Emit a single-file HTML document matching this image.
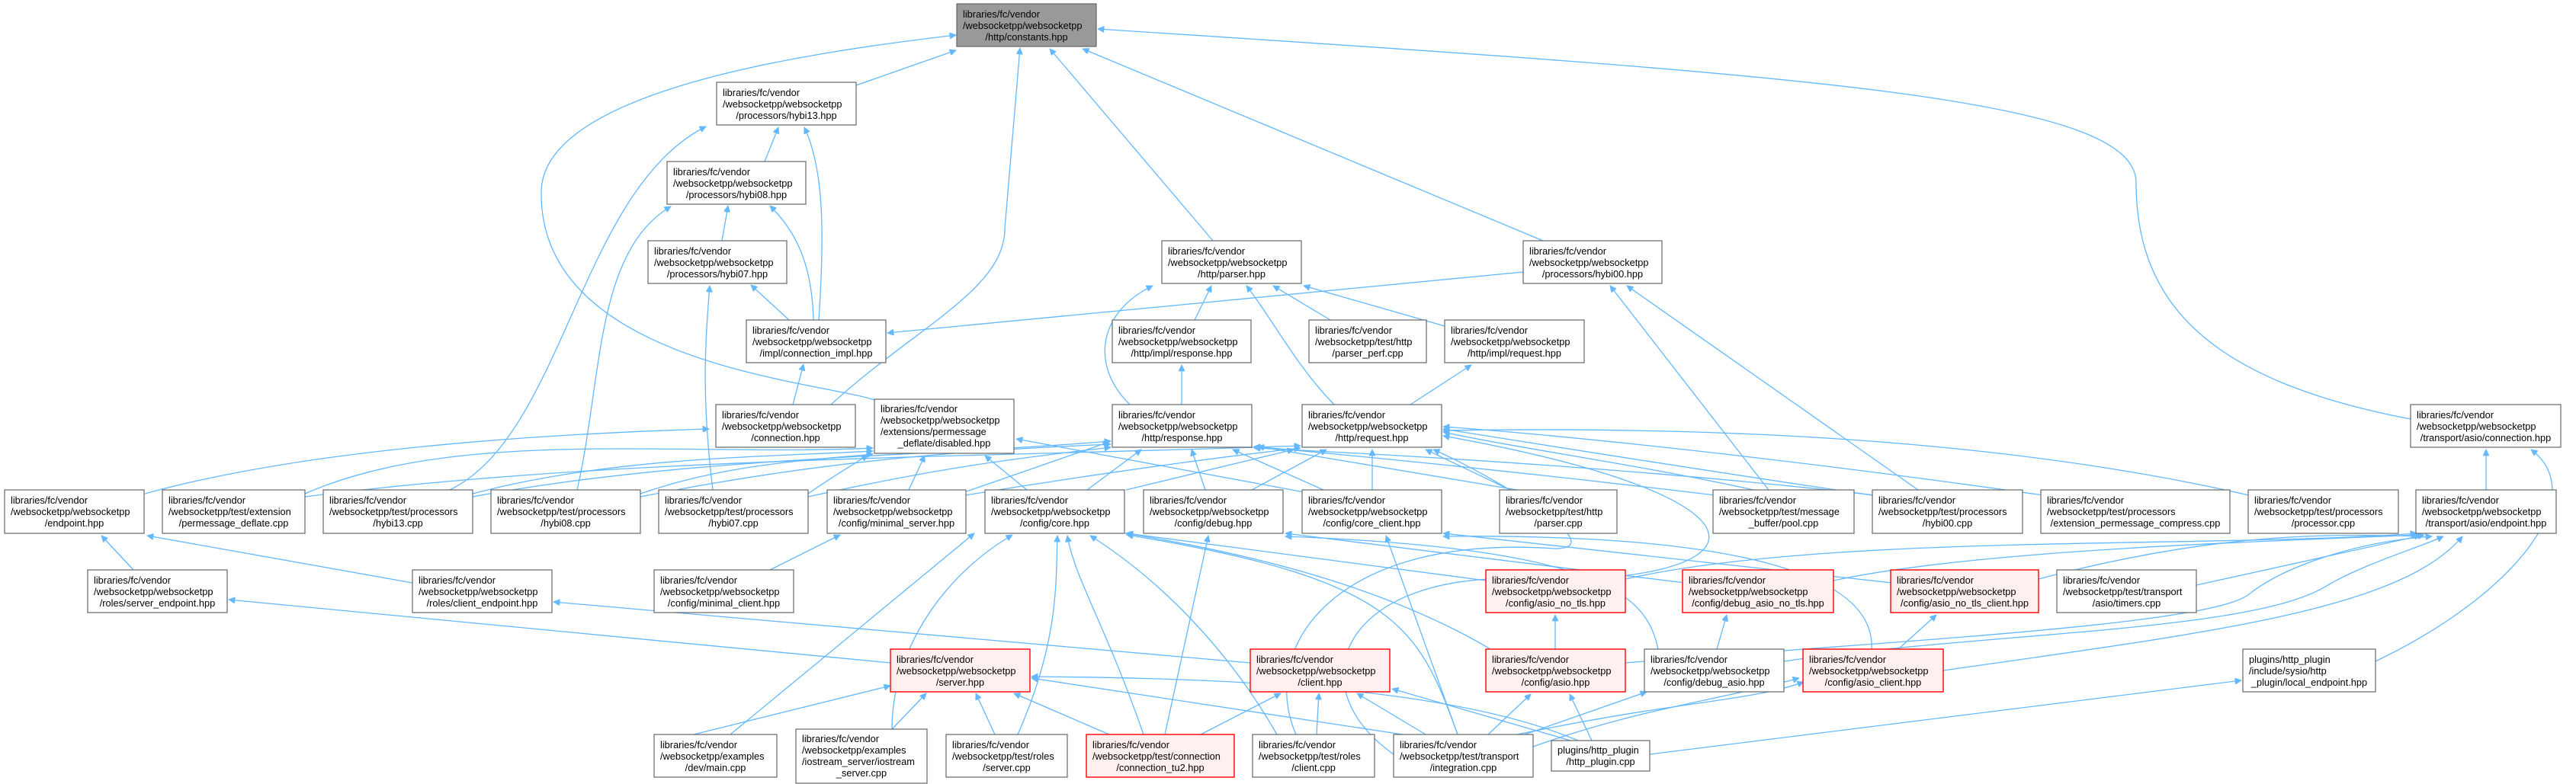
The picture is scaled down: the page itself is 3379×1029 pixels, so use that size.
<!DOCTYPE html>
<html><head><meta charset="utf-8">
<style>
html,body{margin:0;padding:0;background:#fff;}
svg{display:block;}
text{font-family:"Liberation Sans",Arial,sans-serif;font-size:12.8px;fill:#000;}
.n{fill:#fff;stroke:#666;stroke-width:1.2;}
.r{fill:#fff0f0;stroke:#f00;stroke-width:1.4;}
.g{fill:#999;stroke:#666;stroke-width:1.2;}
path.e{fill:none;stroke:#63b8ff;stroke-width:1.3;}
</style></head><body>
<svg width="3379" height="1029" viewBox="0 0 3379 1029" xmlns="http://www.w3.org/2000/svg">
<defs><marker id="a" viewBox="0 0 10 10" refX="10" refY="5" markerWidth="11" markerHeight="8" markerUnits="userSpaceOnUse" orient="auto"><path d="M0,0 L10,5 L0,10 z" fill="#63b8ff" stroke="#63b8ff"/></marker></defs>
<g marker-end="url(#a)">
<!-- to constants -->
<path class="e" d="M1123,112 L1254,66"/>
<path class="e" d="M1150,526 C1080,500 705,480 710,250 C715,120 1050,70 1254,46"/>
<path class="e" d="M1090,531 C1200,430 1318,380 1318,300 L1338,63"/>
<path class="e" d="M1591,316 L1377,64"/>
<path class="e" d="M2024,316 L1420,64"/>
<path class="e" d="M3162,550 C2900,500 2802,400 2802,240 C2802,130 2400,100 1440,38"/>
<!-- hybi13 -->
<path class="e" d="M1003,212 L1021,167"/>
<path class="e" d="M1074,420 C1082,300 1080,220 1055,167"/>
<path class="e" d="M590,643 C740,570 760,250 926,166"/>
<!-- hybi08 -->
<path class="e" d="M947,316 L955,270"/>
<path class="e" d="M1067,420 C1065,340 1040,300 1010,270"/>
<path class="e" d="M757,643 C790,500 780,330 880,271"/>
<!-- hybi07 -->
<path class="e" d="M1035,420 L985,374"/>
<path class="e" d="M935,643 C920,520 925,450 931,375"/>
<!-- conn_impl -->
<path class="e" d="M1998,357 L1164,437"/>
<path class="e" d="M1040,531 L1054,478"/>
<!-- parser -->
<path class="e" d="M1567,420 L1589,375"/>
<path class="e" d="M1482,531 C1430,480 1440,410 1512,375"/>
<path class="e" d="M1750,531 C1700,480 1670,420 1635,375"/>
<path class="e" d="M1745,420 L1670,375"/>
<path class="e" d="M1895,428 L1710,375"/>
<!-- hybi00 -->
<path class="e" d="M2320,643 L2112,375"/>
<path class="e" d="M2516,643 L2134,375"/>
<!-- impl response/request -->
<path class="e" d="M1550,531 L1550,479"/>
<path class="e" d="M1850,531 L1930,479"/>
<!-- connection.hpp -->
<path class="e" d="M190,648 C400,590 700,570 930,563"/>
<!-- tconn -->
<path class="e" d="M3261,643 L3261,590"/>
<path class="e" d="M3116,868 C3300,780 3400,650 3320,590"/>
<!-- disabled -->
<path class="e" d="M400,648 C600,560 900,600 1145,588"/>
<path class="e" d="M620,648 C800,600 1000,600 1145,592"/>
<path class="e" d="M840,648 C950,610 1050,605 1145,596"/>
<path class="e" d="M1060,648 C1100,620 1120,610 1138,597"/>
<path class="e" d="M1192,643 L1213,598"/>
<path class="e" d="M1347,643 L1292,598"/>
<path class="e" d="M1711,646 L1333,576"/>
<!-- response -->
<path class="e" d="M620,652 C900,600 1200,600 1457,579"/>
<path class="e" d="M840,652 C1100,600 1300,590 1457,583"/>
<path class="e" d="M1060,652 C1250,610 1350,600 1457,587"/>
<path class="e" d="M1268,645 L1455,580"/>
<path class="e" d="M1426,643 L1497,590"/>
<path class="e" d="M1581,643 L1563,590"/>
<path class="e" d="M1736,643 L1617,590"/>
<path class="e" d="M1990,643 L1650,586"/>
<path class="e" d="M2250,650 C2000,620 1800,600 1645,586"/>
<path class="e" d="M2460,650 C2200,620 1900,600 1645,588"/>
<!-- request -->
<path class="e" d="M400,652 C800,600 1300,600 1706,585"/>
<path class="e" d="M1266,650 C1450,620 1600,600 1706,588"/>
<path class="e" d="M1477,643 L1697,590"/>
<path class="e" d="M1642,643 L1740,590"/>
<path class="e" d="M1800,643 L1800,590"/>
<path class="e" d="M1981,643 L1870,590"/>
<path class="e" d="M2300,643 C2150,610 2000,590 1893,567"/>
<path class="e" d="M2456,650 C2250,620 2000,580 1893,563"/>
<path class="e" d="M2680,650 C2400,610 2100,575 1893,560"/>
<path class="e" d="M2950,650 C2600,570 2200,560 1893,565"/>
<path class="e" d="M1828,990 C1700,900 1760,750 2000,760 C2300,770 2380,660 1893,572"/>
<path class="e" d="M1700,964 C1650,850 1750,700 2040,720 C2120,720 1950,620 1880,590"/>
<!-- endpoint -->
<path class="e" d="M175,748 L133,703"/>
<path class="e" d="M541,765 L193,703"/>
<!-- minimal_server -->
<path class="e" d="M1010,748 L1102,702"/>
<!-- server/client endpoint -->
<path class="e" d="M1168,870 L300,787"/>
<path class="e" d="M1640,870 L726,790"/>
<!-- core -->
<path class="e" d="M958,964 L1278,700"/>
<path class="e" d="M1170,957 C1170,860 1230,760 1328,702"/>
<path class="e" d="M1335,964 C1390,840 1385,760 1387,703"/>
<path class="e" d="M1500,964 C1450,820 1410,760 1400,703"/>
<path class="e" d="M1675,964 C1610,850 1520,760 1430,703"/>
<path class="e" d="M1912,964 C1860,820 1830,760 1478,702"/>
<path class="e" d="M1949,762 L1478,700"/>
<path class="e" d="M1955,852 C1800,760 1600,720 1476,700"/>
<!-- debug -->
<path class="e" d="M1528,964 L1585,703"/>
<path class="e" d="M2210,765 L1686,700"/>
<path class="e" d="M2175,852 C2160,780 2100,720 1686,704"/>
<!-- core_client -->
<path class="e" d="M1912,964 L1818,703"/>
<path class="e" d="M2482,765 L1893,700"/>
<path class="e" d="M2455,852 C2460,760 2300,700 1893,704"/>
<!-- asio chain -->
<path class="e" d="M2040,852 L2040,807"/>
<path class="e" d="M2252,852 L2265,807"/>
<path class="e" d="M2490,852 L2540,807"/>
<!-- server.hpp -->
<path class="e" d="M910,964 L1168,900"/>
<path class="e" d="M1170,957 L1215,910"/>
<path class="e" d="M1305,964 L1280,910"/>
<path class="e" d="M1455,964 L1330,910"/>
<path class="e" d="M1840,964 L1353,890"/>
<path class="e" d="M2070,972 C1900,900 1600,890 1353,888"/>
<!-- client.hpp -->
<path class="e" d="M1575,964 L1680,910"/>
<path class="e" d="M1727,964 L1730,910"/>
<path class="e" d="M1870,964 L1780,910"/>
<path class="e" d="M2060,972 L1826,904"/>
<!-- asio / debug_asio / asio_client -->
<path class="e" d="M1952,964 L2008,911"/>
<path class="e" d="M2088,972 L2059,911"/>
<path class="e" d="M2000,964 L2160,908"/>
<path class="e" d="M2011,980 C2150,930 2250,920 2360,890"/>
<path class="e" d="M1990,964 C2200,920 2300,920 2366,895"/>
<!-- transport endpoint -->
<path class="e" d="M2132,760 C2400,700 2900,720 3170,700"/>
<path class="e" d="M2405,762 C2600,720 3000,710 3172,702"/>
<path class="e" d="M2674,760 C2900,700 3050,700 3176,704"/>
<path class="e" d="M2881,768 L3180,702"/>
<path class="e" d="M2132,870 C2500,840 2900,820 2950,780 C3000,740 3100,710 3190,704"/>
<path class="e" d="M2340,868 C2600,830 2950,830 3050,770 C3100,740 3170,720 3205,704"/>
<path class="e" d="M2549,880 C2900,830 3150,800 3230,704"/>
<!-- local endpoint -->
<path class="e" d="M2164,990 L2940,893"/>
</g>

<!-- nodes -->
<g>
<rect class="g" x="1255" y="5" width="183" height="56"/>
<text x="1263" y="23">libraries/fc/vendor</text><text x="1263" y="38">/websocketpp/websocketpp</text><text x="1346.5" y="53" text-anchor="middle">/http/constants.hpp</text>

<rect class="n" x="940" y="108" width="183" height="56"/>
<text x="948" y="126">libraries/fc/vendor</text><text x="948" y="141">/websocketpp/websocketpp</text><text x="1031.5" y="156" text-anchor="middle">/processors/hybi13.hpp</text>

<rect class="n" x="875" y="212" width="182" height="56"/>
<text x="883" y="230">libraries/fc/vendor</text><text x="883" y="245">/websocketpp/websocketpp</text><text x="966" y="260" text-anchor="middle">/processors/hybi08.hpp</text>

<rect class="n" x="850" y="316" width="182" height="56"/>
<text x="858" y="334">libraries/fc/vendor</text><text x="858" y="349">/websocketpp/websocketpp</text><text x="941" y="364" text-anchor="middle">/processors/hybi07.hpp</text>

<rect class="n" x="1524" y="316" width="183" height="56"/>
<text x="1532" y="334">libraries/fc/vendor</text><text x="1532" y="349">/websocketpp/websocketpp</text><text x="1615.5" y="364" text-anchor="middle">/http/parser.hpp</text>

<rect class="n" x="1998" y="316" width="182" height="56"/>
<text x="2006" y="334">libraries/fc/vendor</text><text x="2006" y="349">/websocketpp/websocketpp</text><text x="2089" y="364" text-anchor="middle">/processors/hybi00.hpp</text>

<rect class="n" x="979" y="420" width="183" height="56"/>
<text x="987" y="438">libraries/fc/vendor</text><text x="987" y="453">/websocketpp/websocketpp</text><text x="1070.5" y="468" text-anchor="middle">/impl/connection_impl.hpp</text>

<rect class="n" x="1459" y="420" width="182" height="56"/>
<text x="1467" y="438">libraries/fc/vendor</text><text x="1467" y="453">/websocketpp/websocketpp</text><text x="1550" y="468" text-anchor="middle">/http/impl/response.hpp</text>

<rect class="n" x="1717" y="420" width="154" height="56"/>
<text x="1725" y="438">libraries/fc/vendor</text><text x="1725" y="453">/websocketpp/test/http</text><text x="1794" y="468" text-anchor="middle">/parser_perf.cpp</text>

<rect class="n" x="1895" y="420" width="183" height="56"/>
<text x="1903" y="438">libraries/fc/vendor</text><text x="1903" y="453">/websocketpp/websocketpp</text><text x="1986.5" y="468" text-anchor="middle">/http/impl/request.hpp</text>

<rect class="n" x="939" y="531" width="183" height="56"/>
<text x="947" y="549">libraries/fc/vendor</text><text x="947" y="564">/websocketpp/websocketpp</text><text x="1030.5" y="579" text-anchor="middle">/connection.hpp</text>

<rect class="n" x="1147" y="524" width="183" height="71"/>
<text x="1155" y="541">libraries/fc/vendor</text><text x="1155" y="556">/websocketpp/websocketpp</text><text x="1155" y="571">/extensions/permessage</text><text x="1238.5" y="586" text-anchor="middle">_deflate/disabled.hpp</text>

<rect class="n" x="1459" y="531" width="183" height="56"/>
<text x="1467" y="549">libraries/fc/vendor</text><text x="1467" y="564">/websocketpp/websocketpp</text><text x="1550.5" y="579" text-anchor="middle">/http/response.hpp</text>

<rect class="n" x="1708" y="531" width="183" height="56"/>
<text x="1716" y="549">libraries/fc/vendor</text><text x="1716" y="564">/websocketpp/websocketpp</text><text x="1799.5" y="579" text-anchor="middle">/http/request.hpp</text>

<rect class="n" x="3162" y="531" width="197" height="56"/>
<text x="3170" y="549">libraries/fc/vendor</text><text x="3170" y="564">/websocketpp/websocketpp</text><text x="3260.5" y="579" text-anchor="middle">/transport/asio/connection.hpp</text>

<!-- row 6 -->
<rect class="n" x="6" y="643" width="183" height="57"/>
<text x="14" y="661">libraries/fc/vendor</text><text x="14" y="676">/websocketpp/websocketpp</text><text x="97.5" y="691" text-anchor="middle">/endpoint.hpp</text>

<rect class="n" x="213" y="643" width="187" height="57"/>
<text x="221" y="661">libraries/fc/vendor</text><text x="221" y="676">/websocketpp/test/extension</text><text x="306.5" y="691" text-anchor="middle">/permessage_deflate.cpp</text>

<rect class="n" x="424" y="643" width="196" height="57"/>
<text x="432" y="661">libraries/fc/vendor</text><text x="432" y="676">/websocketpp/test/processors</text><text x="522" y="691" text-anchor="middle">/hybi13.cpp</text>

<rect class="n" x="644" y="643" width="196" height="57"/>
<text x="652" y="661">libraries/fc/vendor</text><text x="652" y="676">/websocketpp/test/processors</text><text x="742" y="691" text-anchor="middle">/hybi08.cpp</text>

<rect class="n" x="864" y="643" width="196" height="57"/>
<text x="872" y="661">libraries/fc/vendor</text><text x="872" y="676">/websocketpp/test/processors</text><text x="962" y="691" text-anchor="middle">/hybi07.cpp</text>

<rect class="n" x="1085" y="643" width="182" height="57"/>
<text x="1093" y="661">libraries/fc/vendor</text><text x="1093" y="676">/websocketpp/websocketpp</text><text x="1176" y="691" text-anchor="middle">/config/minimal_server.hpp</text>

<rect class="n" x="1292" y="643" width="183" height="57"/>
<text x="1300" y="661">libraries/fc/vendor</text><text x="1300" y="676">/websocketpp/websocketpp</text><text x="1383.5" y="691" text-anchor="middle">/config/core.hpp</text>

<rect class="n" x="1500" y="643" width="183" height="57"/>
<text x="1508" y="661">libraries/fc/vendor</text><text x="1508" y="676">/websocketpp/websocketpp</text><text x="1591.5" y="691" text-anchor="middle">/config/debug.hpp</text>

<rect class="n" x="1708" y="643" width="183" height="57"/>
<text x="1716" y="661">libraries/fc/vendor</text><text x="1716" y="676">/websocketpp/websocketpp</text><text x="1799.5" y="691" text-anchor="middle">/config/core_client.hpp</text>

<rect class="n" x="1967" y="643" width="154" height="57"/>
<text x="1975" y="661">libraries/fc/vendor</text><text x="1975" y="676">/websocketpp/test/http</text><text x="2044" y="691" text-anchor="middle">/parser.cpp</text>

<rect class="n" x="2247" y="643" width="185" height="57"/>
<text x="2255" y="661">libraries/fc/vendor</text><text x="2255" y="676">/websocketpp/test/message</text><text x="2339.5" y="691" text-anchor="middle">_buffer/pool.cpp</text>

<rect class="n" x="2456" y="643" width="197" height="57"/>
<text x="2464" y="661">libraries/fc/vendor</text><text x="2464" y="676">/websocketpp/test/processors</text><text x="2554.5" y="691" text-anchor="middle">/hybi00.cpp</text>

<rect class="n" x="2677" y="643" width="248" height="57"/>
<text x="2685" y="661">libraries/fc/vendor</text><text x="2685" y="676">/websocketpp/test/processors</text><text x="2801" y="691" text-anchor="middle">/extension_permessage_compress.cpp</text>

<rect class="n" x="2949" y="643" width="197" height="57"/>
<text x="2957" y="661">libraries/fc/vendor</text><text x="2957" y="676">/websocketpp/test/processors</text><text x="3047.5" y="691" text-anchor="middle">/processor.cpp</text>

<rect class="n" x="3169" y="643" width="184" height="57"/>
<text x="3177" y="661">libraries/fc/vendor</text><text x="3177" y="676">/websocketpp/websocketpp</text><text x="3261" y="691" text-anchor="middle">/transport/asio/endpoint.hpp</text>

<!-- row 7 -->
<rect class="n" x="115" y="748" width="183" height="56"/>
<text x="123" y="766">libraries/fc/vendor</text><text x="123" y="781">/websocketpp/websocketpp</text><text x="206.5" y="796" text-anchor="middle">/roles/server_endpoint.hpp</text>

<rect class="n" x="541" y="748" width="183" height="56"/>
<text x="549" y="766">libraries/fc/vendor</text><text x="549" y="781">/websocketpp/websocketpp</text><text x="632.5" y="796" text-anchor="middle">/roles/client_endpoint.hpp</text>

<rect class="n" x="858" y="748" width="183" height="56"/>
<text x="866" y="766">libraries/fc/vendor</text><text x="866" y="781">/websocketpp/websocketpp</text><text x="949.5" y="796" text-anchor="middle">/config/minimal_client.hpp</text>

<rect class="r" x="1949" y="748" width="183" height="56"/>
<text x="1957" y="766">libraries/fc/vendor</text><text x="1957" y="781">/websocketpp/websocketpp</text><text x="2040.5" y="796" text-anchor="middle">/config/asio_no_tls.hpp</text>

<rect class="r" x="2207" y="748" width="198" height="56"/>
<text x="2215" y="766">libraries/fc/vendor</text><text x="2215" y="781">/websocketpp/websocketpp</text><text x="2306" y="796" text-anchor="middle">/config/debug_asio_no_tls.hpp</text>

<rect class="r" x="2480" y="748" width="194" height="56"/>
<text x="2488" y="766">libraries/fc/vendor</text><text x="2488" y="781">/websocketpp/websocketpp</text><text x="2577" y="796" text-anchor="middle">/config/asio_no_tls_client.hpp</text>

<rect class="n" x="2698" y="748" width="183" height="56"/>
<text x="2706" y="766">libraries/fc/vendor</text><text x="2706" y="781">/websocketpp/test/transport</text><text x="2789.5" y="796" text-anchor="middle">/asio/timers.cpp</text>

<!-- row 8 -->
<rect class="r" x="1168" y="852" width="183" height="56"/>
<text x="1176" y="870">libraries/fc/vendor</text><text x="1176" y="885">/websocketpp/websocketpp</text><text x="1259.5" y="900" text-anchor="middle">/server.hpp</text>

<rect class="r" x="1640" y="852" width="183" height="56"/>
<text x="1648" y="870">libraries/fc/vendor</text><text x="1648" y="885">/websocketpp/websocketpp</text><text x="1731.5" y="900" text-anchor="middle">/client.hpp</text>

<rect class="r" x="1949" y="852" width="183" height="56"/>
<text x="1957" y="870">libraries/fc/vendor</text><text x="1957" y="885">/websocketpp/websocketpp</text><text x="2040.5" y="900" text-anchor="middle">/config/asio.hpp</text>

<rect class="n" x="2157" y="852" width="183" height="56"/>
<text x="2165" y="870">libraries/fc/vendor</text><text x="2165" y="885">/websocketpp/websocketpp</text><text x="2248.5" y="900" text-anchor="middle">/config/debug_asio.hpp</text>

<rect class="r" x="2365" y="852" width="184" height="56"/>
<text x="2373" y="870">libraries/fc/vendor</text><text x="2373" y="885">/websocketpp/websocketpp</text><text x="2457" y="900" text-anchor="middle">/config/asio_client.hpp</text>

<rect class="n" x="2942" y="852" width="174" height="56"/>
<text x="2950" y="870">plugins/http_plugin</text><text x="2950" y="885">/include/sysio/http</text><text x="3029" y="900" text-anchor="middle">_plugin/local_endpoint.hpp</text>

<!-- row 9 -->
<rect class="n" x="858" y="964" width="161" height="56"/>
<text x="866" y="982">libraries/fc/vendor</text><text x="866" y="997">/websocketpp/examples</text><text x="938.5" y="1012" text-anchor="middle">/dev/main.cpp</text>

<rect class="n" x="1044" y="957" width="172" height="71"/>
<text x="1052" y="974">libraries/fc/vendor</text><text x="1052" y="989">/websocketpp/examples</text><text x="1052" y="1004">/iostream_server/iostream</text><text x="1130" y="1019" text-anchor="middle">_server.cpp</text>

<rect class="n" x="1241" y="964" width="159" height="56"/>
<text x="1249" y="982">libraries/fc/vendor</text><text x="1249" y="997">/websocketpp/test/roles</text><text x="1320.5" y="1012" text-anchor="middle">/server.cpp</text>

<rect class="r" x="1425" y="964" width="194" height="56"/>
<text x="1433" y="982">libraries/fc/vendor</text><text x="1433" y="997">/websocketpp/test/connection</text><text x="1522" y="1012" text-anchor="middle">/connection_tu2.hpp</text>

<rect class="n" x="1643" y="964" width="160" height="56"/>
<text x="1651" y="982">libraries/fc/vendor</text><text x="1651" y="997">/websocketpp/test/roles</text><text x="1723" y="1012" text-anchor="middle">/client.cpp</text>

<rect class="n" x="1828" y="964" width="183" height="56"/>
<text x="1836" y="982">libraries/fc/vendor</text><text x="1836" y="997">/websocketpp/test/transport</text><text x="1919.5" y="1012" text-anchor="middle">/integration.cpp</text>

<rect class="n" x="2035" y="972" width="129" height="40"/>
<text x="2043" y="989">plugins/http_plugin</text><text x="2099.5" y="1004" text-anchor="middle">/http_plugin.cpp</text>
</g>
</svg>
</body></html>
